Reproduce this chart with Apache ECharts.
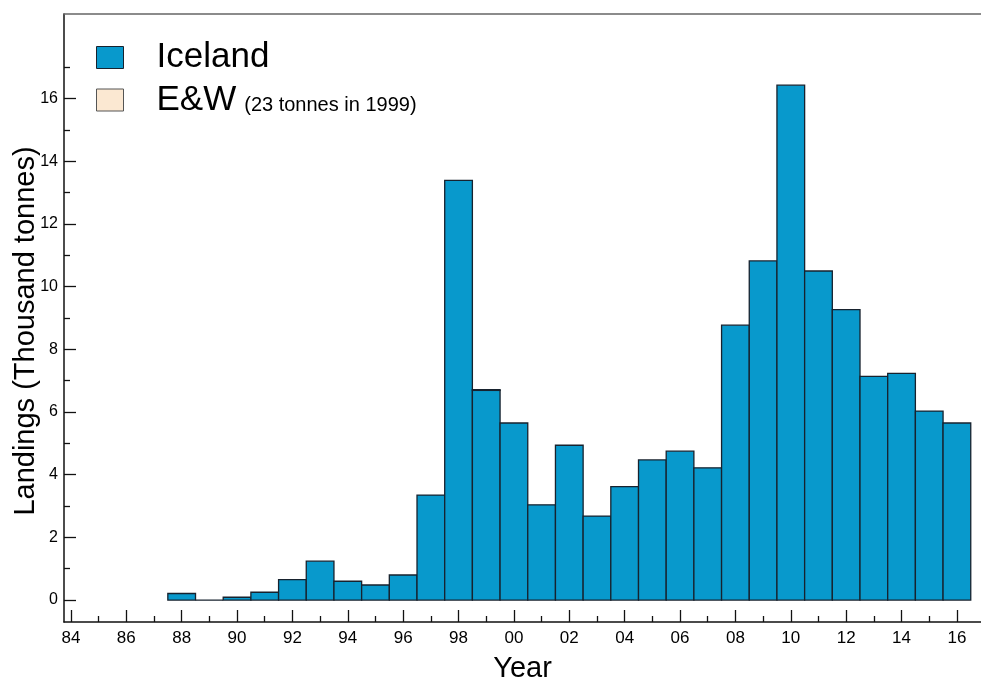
<!DOCTYPE html>
<html>
<head>
<meta charset="utf-8">
<title>Landings by year</title>
<script src="https://cdn.jsdelivr.net/npm/echarts@6/dist/echarts.min.js"></script>
<style>
  html, body { margin: 0; padding: 0; background: #ffffff; }
  #chart { width: 981px; height: 680px; }
</style>
</head>
<body>
<div id="chart"></div>
<script>
// Annual landings, thousand tonnes
const years = [1988, 1989, 1990, 1991, 1992, 1993, 1994, 1995, 1996, 1997, 1998, 1999,
  2000, 2001, 2002, 2003, 2004, 2005, 2006, 2007, 2008, 2009, 2010, 2011, 2012,
  2013, 2014, 2015, 2016];
const iceland = [0.21, 0, 0.09, 0.25, 0.65, 1.24, 0.6, 0.48, 0.8, 3.35, 13.39, 6.69,
  5.65, 3.04, 4.94, 2.68, 3.62, 4.47, 4.75, 4.22, 8.77, 10.82, 16.43, 10.5, 9.27,
  7.14, 7.23, 6.03, 5.65];
// England & Wales: 23 tonnes in 1999, stacked on top of Iceland
const ewYears = [1999];
const ewValues = [0.023];

// Axis ticks and labels
const yMajorTicks = [0, 2, 4, 6, 8, 10, 12, 14, 16];
const yMinorTicks = [1, 3, 5, 7, 9, 11, 13, 15, 17];
const xMajorTicks = [1984, 1986, 1988, 1990, 1992, 1994, 1996, 1998, 2000, 2002,
  2004, 2006, 2008, 2010, 2012, 2014, 2016];
const xMinorTicks = [1985, 1987, 1989, 1991, 1993, 1995, 1997, 1999, 2001, 2003,
  2005, 2007, 2009, 2011, 2013, 2015];

const FONT = '"Liberation Sans", Arial, Helvetica, sans-serif';
const ICELAND_FILL = '#0899cc';
const EW_FILL = '#fbe8d2';
const OUTLINE = '#17222e';
const X_MIN = 1983.75, X_MAX = 2016.87;
const Y_MIN = -0.7, Y_MAX = 18.7;

const icelandData = years.map((y, i) => [y, iceland[i], 0]);
const ewData = ewYears.map((y, i) => [y, ewValues[i], iceland[years.indexOf(y)]]);

// One histogram bin per year, spanning year-0.5 .. year+0.5
function histRect(fill, stroke) {
  return function (params, api) {
    const x = api.value(0), v = api.value(1), base = api.value(2);
    const p0 = api.coord([x - 0.5, base + v]);
    const p1 = api.coord([x + 0.5, base]);
    return {
      type: 'rect',
      shape: { x: p0[0], y: p0[1], width: p1[0] - p0[0], height: p1[1] - p0[1] },
      style: { fill: fill, stroke: stroke, lineWidth: 1.3 }
    };
  };
}

const twoDigit = v => String(((v % 100) + 100) % 100).padStart(2, '0');

const chart = echarts.init(document.getElementById('chart'), null, { renderer: 'canvas' });
chart.setOption({
  backgroundColor: '#ffffff',
  animation: false,
  textStyle: { fontFamily: FONT },
  grid: { left: 64, right: 0, top: 14, bottom: 58, containLabel: false, outerBoundsMode: 'none' },
  legend: {
    orient: 'vertical',
    left: 91,
    top: 35,
    itemWidth: 27,
    itemHeight: 22,
    itemGap: 7.5,
    icon: 'rect',
    selectedMode: false,
    data: [
      { name: 'Iceland', itemStyle: { color: ICELAND_FILL, borderColor: OUTLINE, borderWidth: 1 } },
      { name: 'E&W', itemStyle: { color: EW_FILL, borderColor: '#555555', borderWidth: 1 } }
    ],
    formatter: function (name) {
      return name === 'E&W' ? '{b|E&W}{s|(23 tonnes in 1999)}' : '{b|' + name + '}';
    },
    textStyle: {
      color: '#000000',
      fontFamily: FONT,
      rich: {
        b: { fontSize: 35, lineHeight: 30, fontFamily: FONT, color: '#000', padding: [0, 0, 0, 28] },
        s: { fontSize: 20, lineHeight: 20, verticalAlign: 'bottom', fontFamily: FONT, color: '#000', padding: [0, 0, 0, 8] }
      }
    }
  },
  xAxis: [
    {
      type: 'value',
      position: 'bottom',
      min: X_MIN,
      max: X_MAX,
      name: 'Year',
      nameLocation: 'middle',
      nameGap: 32,
      nameTextStyle: { fontSize: 29, color: '#000', fontFamily: FONT },
      axisLine: { show: true, onZero: false, lineStyle: { color: '#111', width: 1.5 } },
      axisTick: { show: true, inside: true, length: 12, customValues: xMajorTicks, lineStyle: { color: '#111', width: 1.3 } },
      axisLabel: { show: true, customValues: xMajorTicks, formatter: twoDigit, fontSize: 17, color: '#000', margin: 8, fontFamily: FONT },
      splitLine: { show: false }
    },
    {
      type: 'value',
      position: 'bottom',
      min: X_MIN,
      max: X_MAX,
      axisLine: { show: false, onZero: false },
      axisTick: { show: true, inside: true, length: 6, customValues: xMinorTicks, lineStyle: { color: '#111', width: 1.3 } },
      axisLabel: { show: false },
      splitLine: { show: false }
    },
    {
      type: 'value',
      position: 'top',
      min: X_MIN,
      max: X_MAX,
      axisLine: { show: true, onZero: false, lineStyle: { color: '#666', width: 1.5 } },
      axisTick: { show: false },
      axisLabel: { show: false },
      splitLine: { show: false }
    }
  ],
  yAxis: [
    {
      type: 'value',
      position: 'left',
      min: Y_MIN,
      max: Y_MAX,
      name: 'Landings (Thousand tonnes)',
      nameLocation: 'middle',
      nameGap: 24,
      nameMoveOverlap: false,
      nameTextStyle: { fontSize: 29, color: '#000', fontFamily: FONT, padding: [0, 26, 0, 0] },
      axisLine: { show: true, onZero: false, lineStyle: { color: '#111', width: 1.5 } },
      axisTick: { show: true, inside: true, length: 12, customValues: yMajorTicks, lineStyle: { color: '#111', width: 1.3 } },
      axisLabel: { show: true, customValues: yMajorTicks, fontSize: 16, color: '#000', margin: 6, fontFamily: FONT },
      splitLine: { show: false }
    },
    {
      type: 'value',
      position: 'left',
      min: Y_MIN,
      max: Y_MAX,
      axisLine: { show: false, onZero: false },
      axisTick: { show: true, inside: true, length: 6, customValues: yMinorTicks, lineStyle: { color: '#111', width: 1.3 } },
      axisLabel: { show: false },
      splitLine: { show: false }
    }
  ],
  series: [
    {
      name: 'Iceland',
      type: 'custom',
      xAxisIndex: 0,
      yAxisIndex: 0,
      renderItem: histRect(ICELAND_FILL, OUTLINE),
      encode: { x: 0, y: [1, 2] },
      itemStyle: { color: ICELAND_FILL },
      data: icelandData
    },
    {
      name: 'E&W',
      type: 'custom',
      xAxisIndex: 0,
      yAxisIndex: 0,
      renderItem: histRect(EW_FILL, OUTLINE),
      encode: { x: 0, y: [1, 2] },
      itemStyle: { color: EW_FILL },
      data: ewData
    }
  ]
});
</script>
</body>
</html>
